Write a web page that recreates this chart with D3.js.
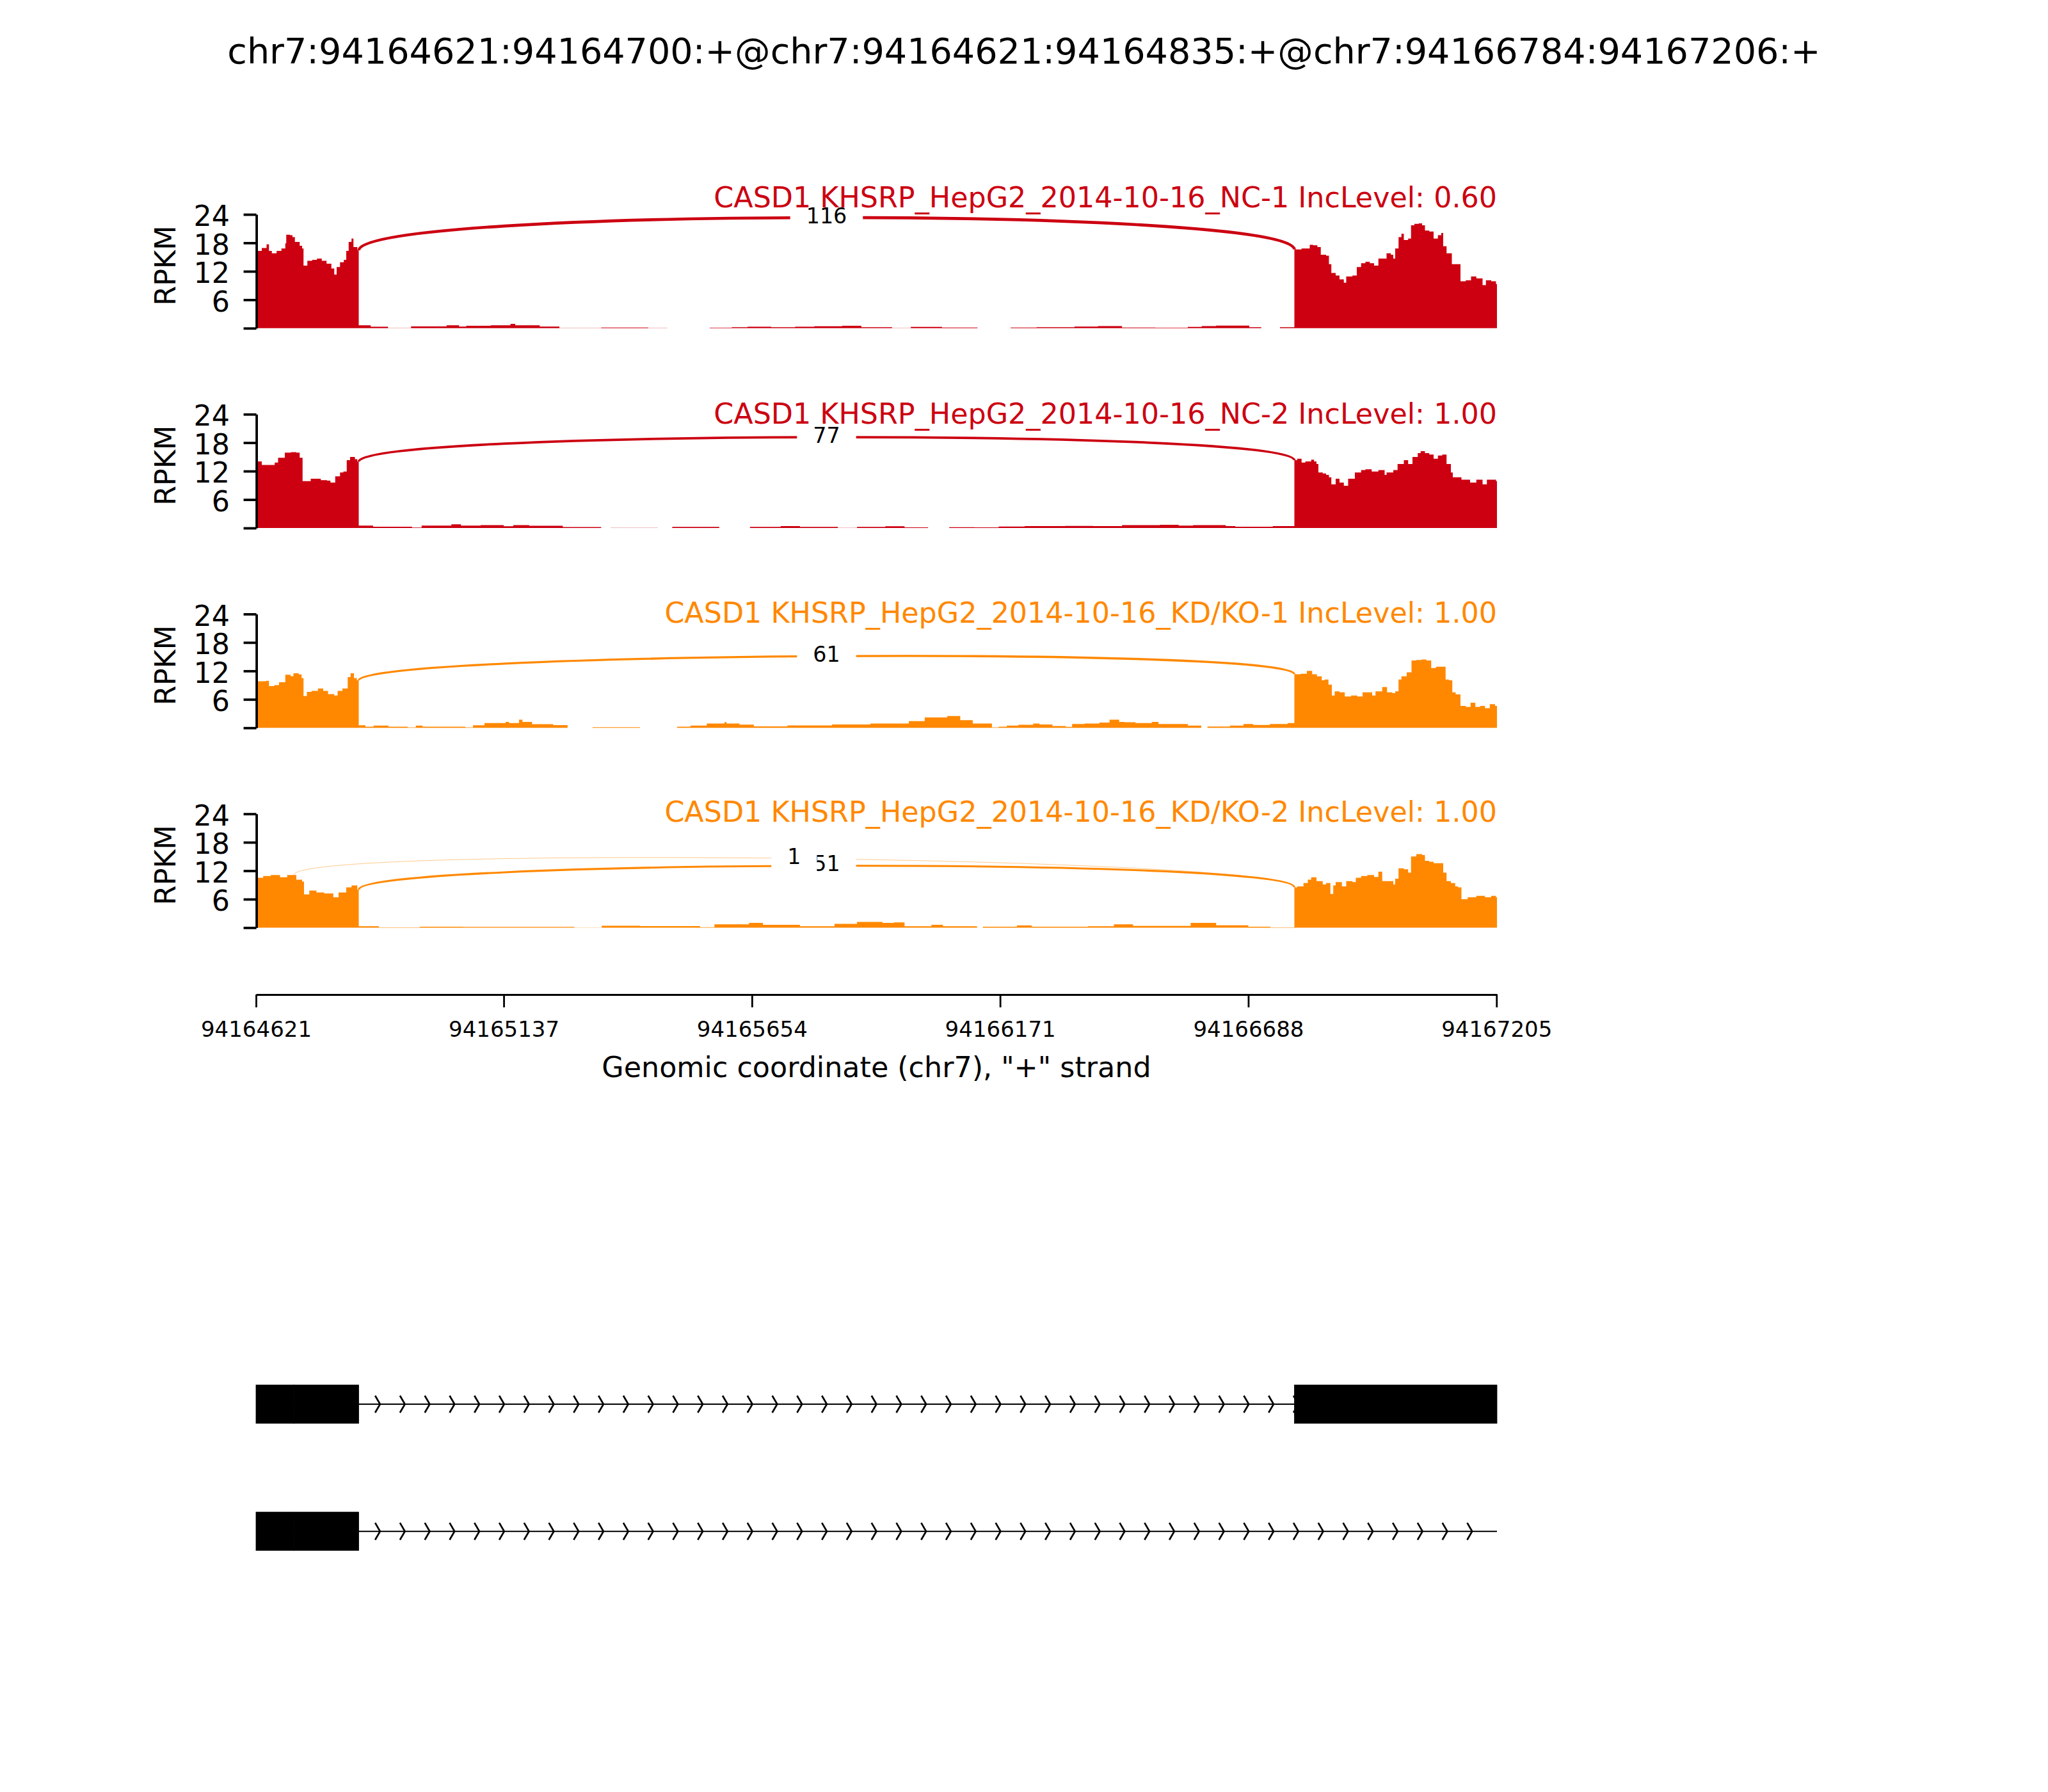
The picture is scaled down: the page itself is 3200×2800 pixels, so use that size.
<!DOCTYPE html>
<html lang="en">
<head>
<meta charset="utf-8">
<title>Sashimi plot CASD1</title>
<script src="https://cdn.jsdelivr.net/npm/d3@7"></script>
<style>
  body { margin: 0; background: #fff; }
  text { font-family: "DejaVu Sans", sans-serif; }
</style>
</head>
<body>
<script>

// Region and event
var regionStart = 94164621;
var regionEnd = 94167206;
var titleText = "chr7:94164621:94164700:+@chr7:94164621:94164835:+@chr7:94166784:94167206:+";
var xLabelText = 'Genomic coordinate (chr7), "+" strand';

// Samples
var sampleNames = ["CASD1 KHSRP_HepG2_2014-10-16_NC-1", "CASD1 KHSRP_HepG2_2014-10-16_NC-2",
                   "CASD1 KHSRP_HepG2_2014-10-16_KD/KO-1", "CASD1 KHSRP_HepG2_2014-10-16_KD/KO-2"];
var incLevels = ["0.60", "1.00", "1.00", "1.00"];
var sampleColors = ["#CC0011", "#CC0011", "#FF8800", "#FF8800"];

// Coverage, [bp offset from regionStart, RPKM]
var covNC1 = [
  [0,16.3],[12,16.9],[22,17.7],[27,16.3],[33,15.8],[43,16.3],[53,16.8],[61,17.9],[63,19.7],[71,19.6],
  [76,19.2],[81,18.2],[91,17.4],[96,16.8],[99,13.2],[107,14.2],[117,14.4],[127,14.7],[137,14.2],[147,13.6],
  [157,12.6],[163,11.3],[168,12.9],[175,13.9],[183,14.4],[188,16.3],[193,18.2],[199,18.9],[203,17.1],[211,16.4],
  [214,0.62],[239,0.3],[275,0.05],[323,0.38],[397,0.62],[423,0.33],[438,0.52],[489,0.62],[530,0.93],[540,0.62],
  [591,0.33],[632,0.05],[719,0.14],[817,0.05],[857,0],[945,0.1],[991,0.22],[1024,0.3],[1073,0.22],[1123,0.3],
  [1163,0.4],[1221,0.5],[1261,0.22],[1325,0.05],[1364,0.27],[1429,0.14],[1503,0],[1572,0.14],[1626,0.22],[1705,0.36],
  [1754,0.45],[1804,0.14],[1873,0.1],[1941,0.27],[1970,0.45],[2000,0.54],[2069,0.22],[2094,0],[2133,0.22],
  [2163,16.6],[2178,16.8],[2195,17.6],[2202,17.5],[2211,17.1],[2218,15.5],[2229,15.3],[2235,13.5],[2240,11.65],[2249,11.1],
  [2257,10.3],[2266,9.6],[2271,10.9],[2284,11.1],[2293,12.9],[2302,13.7],[2311,14.0],[2320,13.7],[2329,13.2],[2338,14.7],
  [2346,14.7],[2355,15.8],[2364,15.5],[2369,14.7],[2373,16.8],[2380,19.2],[2386,19.9],[2391,18.6],[2400,18.9],[2406,21.7],
  [2413,22.0],[2422,22.1],[2429,21.7],[2435,20.6],[2444,20.4],[2453,18.9],[2462,19.6],[2469,20.1],[2473,17.3],[2480,15.8],
  [2486,15.8],[2491,13.5],[2497,13.5],[2509,9.9],[2520,10.1],[2531,10.9],[2542,10.5],[2555,9.1],[2562,10.1],[2573,9.9],
  [2583,9.3],[2585,9.3]
];
var covNC2 = [
  [0,14.05],[12,13.3],[39,13.8],[46,14.8],[60,15.9],[73,16.0],[84,15.9],[91,14.8],[97,9.9],[114,10.4],
  [135,10.1],[148,10.0],[155,9.6],[165,10.9],[175,11.7],[182,11.9],[189,14.3],[196,15.0],[206,14.5],[211,14.0],
  [214,0.5],[244,0.26],[325,0.1],[345,0.5],[407,0.77],[427,0.5],[468,0.62],[516,0.36],[536,0.62],[569,0.46],
  [639,0.2],[719,0],[739,0.05],[837,0],[867,0.22],[965,0],[1029,0.22],[1093,0.4],[1133,0.22],[1212,0.05],
  [1252,0.22],[1311,0.36],[1351,0.14],[1400,0],[1444,0.18],[1497,0.14],[1547,0.3],[1601,0.4],[1685,0.45],[1744,0.4],
  [1804,0.6],[1883,0.68],[1922,0.5],[1952,0.6],[2020,0.4],[2040,0.27],[2118,0.4],
  [2163,14.3],[2169,14.6],[2178,13.8],[2186,14.05],[2198,14.4],[2204,14.05],[2209,13.5],[2213,11.7],[2222,11.5],[2229,11.2],
  [2235,10.7],[2240,9.2],[2249,10.4],[2257,9.6],[2266,8.9],[2275,10.4],[2289,11.7],[2302,12.2],[2311,12.4],[2324,11.9],
  [2338,12.2],[2351,11.2],[2355,11.7],[2369,12.2],[2378,13.5],[2391,14.3],[2400,13.5],[2409,15.0],[2420,15.8],[2426,16.2],
  [2435,15.8],[2444,15.5],[2453,14.6],[2462,15.3],[2471,15.5],[2480,13.5],[2489,11.7],[2493,10.7],[2511,10.2],[2529,9.6],
  [2542,10.2],[2555,9.2],[2564,10.2],[2573,10.2],[2583,9.9],[2585,9.9]
];
var covKD1 = [
  [0,9.8],[21,9.9],[27,8.8],[38,9.0],[48,9.6],[61,11.2],[72,10.9],[78,11.5],[89,11.25],[95,10.5],
  [99,6.7],[106,7.6],[116,7.8],[129,8.3],[140,7.8],[150,7.1],[163,6.8],[170,7.8],[180,8.3],[191,10.7],
  [197,11.5],[204,10.5],[210,10.0],
  [214,0.54],[228,0.22],[245,0.45],[276,0.22],[316,0.1],[333,0.45],[347,0.22],[436,0.1],[452,0.54],[476,1.0],
  [520,1.25],[527,1.0],[548,1.7],[555,1.25],[575,0.76],[619,0.58],[649,0],[701,0.13],[800,0],[877,0.22],
  [905,0.45],[939,0.9],[976,1.2],[980,0.9],[1007,0.67],[1037,0.3],[1060,0.3],[1107,0.5],[1200,0.7],[1280,0.9],
  [1360,1.4],[1393,2.2],[1440,2.5],[1467,1.6],[1493,0.9],[1533,0.1],[1547,0.22],[1564,0.45],[1588,0.62],[1619,0.9],
  [1632,0.7],[1659,0.36],[1687,0.18],[1700,0.8],[1726,0.9],[1757,1.1],[1778,1.7],[1798,1.25],[1809,1.16],[1832,1.0],
  [1866,1.25],[1880,0.8],[1941,0.45],[1969,0],[1982,0.27],[2029,0.45],[2057,0.8],[2077,0.6],[2112,0.8],[2149,1.0],
  [2163,11.3],[2176,11.4],[2189,12.0],[2200,11.3],[2210,10.85],[2220,10.0],[2226,10.2],[2234,9.1],[2241,6.8],[2247,7.7],
  [2257,7.5],[2268,6.6],[2281,6.8],[2294,6.6],[2305,7.5],[2325,6.8],[2332,7.7],[2346,8.6],[2356,7.5],[2367,7.3],
  [2373,7.7],[2380,10.2],[2386,10.85],[2397,11.7],[2407,14.2],[2417,14.3],[2428,14.4],[2438,14.2],[2448,12.6],[2458,12.9],
  [2468,12.9],[2478,10.2],[2485,10.0],[2492,7.5],[2499,7.05],[2509,4.6],[2520,4.4],[2530,5.3],[2540,4.4],[2550,4.6],
  [2560,4.15],[2570,5.0],[2581,4.6],[2585,4.6]
];
var covKD2 = [
  [0,10.5],[15,10.9],[31,11.1],[50,10.6],[65,11.1],[84,10.1],[96,9.7],[100,7.0],[111,7.8],[126,7.4],
  [142,7.2],[161,6.4],[172,7.4],[188,8.5],[199,8.9],[211,8.0],
  [214,0.3],[256,0.05],[341,0.2],[432,0.15],[663,0.02],[720,0.4],[800,0.33],[925,0.1],[955,0.7],[1027,1.0],
  [1056,0.6],[1133,0.3],[1205,0.8],[1252,1.2],[1305,1.0],[1329,1.1],[1351,0.3],[1407,0.6],[1431,0.3],[1502,0],
  [1514,0.2],[1585,0.45],[1616,0.2],[1733,0.3],[1787,0.7],[1827,0.35],[1947,1.0],[2000,0.5],[2067,0.2],[2113,0.05],
  [2163,8.5],[2169,8.7],[2182,9.4],[2191,10.1],[2198,10.6],[2209,9.8],[2222,9.1],[2229,9.4],[2238,7.1],[2244,8.9],
  [2249,9.6],[2262,8.7],[2271,9.8],[2284,9.6],[2291,10.5],[2302,10.9],[2315,11.1],[2329,10.7],[2338,11.8],[2346,9.8],
  [2369,9.1],[2373,10.3],[2380,12.5],[2391,12.3],[2400,11.6],[2406,15.0],[2417,15.5],[2429,15.3],[2435,14.1],[2444,13.9],
  [2453,13.6],[2473,11.6],[2480,9.8],[2489,9.4],[2498,8.7],[2504,8.5],[2511,6.0],[2524,6.4],[2542,6.7],[2560,6.4],
  [2573,6.7],[2583,6.4],[2585,6.4]
];

// Junctions, [left splice site, right splice site, reads]
var jxnNC1 = [[94164835, 94166784, 116]];
var jxnNC2 = [[94164835, 94166784, 77]];
var jxnKD1 = [[94164835, 94166784, 61]];
var jxnKD2 = [[94164835, 94166784, 51], [94164700, 94166784, 1]];

// Ticks
var yTicks = [0, 6, 12, 18, 24];
var xTicks = [94164621, 94165137, 94165654, 94166171, 94166688, 94167205];

// Isoform models
var iso1Exons = [[94164621, 94164700], [94164700, 94164835], [94166784, 94167206]];
var iso2Exons = [[94164621, 94164700], [94164700, 94164835]];
var isoSpans = [[94164621, 94167206], [94164621, 94167206]];
var nArrows = 50;


//Layout
var w = 3200;
var h = 2800;
var panelBottom0 = 512.8, panelStep = 312.2, panelHeight = 177.8;
var labelShift = [-11.5, 14.8, 13.6, 12.4];   // sample label baseline relative to the 24 tick
var trackCenters = [2194, 2392.7];

var svg = d3.select("body")
            .append("svg")
            .attr("width", w)
            .attr("height", h)
            .style("background", "#fff");

var xScale = d3.scaleLinear()
               .domain([regionStart, regionEnd])
               .range([400, 2339]);

//Title
svg.append("text")
   .attr("x", 1600)
   .attr("y", 99)
   .attr("text-anchor", "middle")
   .attr("font-size", 55.6)
   .text(titleText);

var covs = [covNC1, covNC2, covKD1, covKD2];
var jxns = [jxnNC1, jxnNC2, jxnKD1, jxnKD2];

covs.forEach(function(cov, i) {
	var bottom = panelBottom0 + panelStep * i;
	var color = sampleColors[i];
	var yScale = d3.scaleLinear()
	               .domain([0, 24])
	               .range([bottom, bottom - panelHeight]);
	var g = svg.append("g");

	//Coverage
	var area = d3.area()
	             .curve(d3.curveStepAfter)
	             .x(function(d) { return xScale(regionStart + d[0]); })
	             .y0(yScale(0))
	             .y1(function(d) { return yScale(d[1]); });
	g.append("path")
	 .datum(cov)
	 .attr("d", area)
	 .attr("fill", color);

	//Junction arcs
	var arcH = 0.4125 * d3.max(cov, function(d) { return d[1]; });
	var bis = d3.bisector(function(d) { return d[0]; }).right;
	function valueAt(off) {
		var k = Math.max(bis(cov, off) - 1, 0);
		return cov[k][1];
	}
	var arcs = jxns[i].map(function(j) {
		var ld = valueAt(j[0] - regionStart - 1);
		var rd = valueAt(j[1] - regionStart);
		return { x1: xScale(j[0]), x2: xScale(j[1]), ld: ld, rd: rd, n: j[2] };
	});
	arcs.forEach(function(a) {
		var p = d3.path();
		p.moveTo(a.x1, yScale(a.ld));
		p.bezierCurveTo(a.x1, yScale(a.ld + arcH), a.x2, yScale(a.rd + arcH), a.x2, yScale(a.rd));
		g.append("path")
		 .attr("d", p.toString())
		 .attr("fill", "none")
		 .attr("stroke", color)
		 .attr("stroke-opacity", a.n > 1 ? 1 : 0.45)
		 .attr("stroke-width", Math.max(0.43 * Math.sqrt(a.n), 1));
	});
	arcs.forEach(function(a) {
		var cx = (a.x1 + a.x2) / 2;
		var cy = yScale((a.ld + a.rd) / 2 + 0.75 * arcH);
		var box = g.append("rect").attr("fill", "#fff");
		var t = g.append("text")
		         .attr("x", cx)
		         .attr("y", cy)
		         .attr("dy", "0.26em")
		         .attr("text-anchor", "middle")
		         .attr("font-size", 33.3)
		         .text(a.n);
		var tw = t.node().getComputedTextLength();
		var pad = 25;
		box.attr("x", cx - tw / 2 - pad)
		   .attr("y", cy - 16.7 - pad)
		   .attr("width", tw + 2 * pad)
		   .attr("height", 33.3 + 2 * pad);
	});

	//Y axis
	var yAxis = d3.axisLeft(yScale)
	              .tickValues(yTicks)
	              .tickFormat(function(d) { return d === 0 ? "" : d; })
	              .tickSize(20)
	              .tickSizeOuter(0)
	              .tickPadding(21.6);
	var ax = g.append("g")
	          .attr("transform", "translate(400.6,0)")
	          .call(yAxis)
	          .attr("font-family", null)
	          .attr("font-size", null);
	ax.select(".domain").attr("stroke-width", 3.8);
	ax.selectAll(".tick line").attr("stroke-width", 3.8);
	ax.selectAll(".tick text")
	  .attr("font-size", 44.4)
	  .attr("dy", "0.4em");

	g.append("text")
	 .attr("transform", "translate(274," + yScale(13.2) + ") rotate(-90)")
	 .attr("text-anchor", "middle")
	 .attr("font-size", 44.4)
	 .text("RPKM");

	//Sample label
	g.append("text")
	 .attr("x", xScale(regionEnd))
	 .attr("y", yScale(24) + labelShift[i])
	 .attr("text-anchor", "end")
	 .attr("font-size", 44.4)
	 .attr("fill", color)
	 .text(sampleNames[i] + " IncLevel: " + incLevels[i]);
});

//X axis
var xAxis = d3.axisBottom(xScale)
              .tickValues(xTicks)
              .tickFormat(d3.format("d"))
              .tickSize(20)
              .tickSizeOuter(0)
              .tickPadding(21.9);
var xa = svg.append("g")
            .attr("transform", "translate(0,1554)")
            .call(xAxis)
            .attr("font-family", null)
            .attr("font-size", null);
xa.select(".domain").attr("stroke-width", 2.8);
xa.selectAll(".tick line").attr("stroke-width", 2.8);
xa.selectAll(".tick text").attr("font-size", 34);

svg.append("text")
   .attr("x", (xScale.range()[0] + xScale.range()[1]) / 2)
   .attr("y", 1683)
   .attr("text-anchor", "middle")
   .attr("font-size", 44.4)
   .text(xLabelText);

//Gene models
var isoExons = [iso1Exons, iso2Exons];
var span = regionEnd - regionStart;
var arrowStep = span / nArrows;
var spread = 0.2 * span / nArrows;

isoExons.forEach(function(exons, i) {
	var yc = trackCenters[i];
	var g = svg.append("g");
	var s = isoSpans[i];

	g.append("line")
	 .attr("x1", xScale(s[0]))
	 .attr("x2", xScale(s[1]))
	 .attr("y1", yc)
	 .attr("y2", yc)
	 .attr("stroke", "#000")
	 .attr("stroke-width", 2);

	var locs = d3.range(nArrows)
	             .map(function(k) { return regionStart + k * arrowStep; })
	             .filter(function(p) { return p > s[0] && p < s[1]; });
	g.selectAll("path.arrow")
	 .data(locs)
	 .enter()
	 .append("path")
	 .attr("class", "arrow")
	 .attr("d", function(p) {
	 	var xa = xScale(p - spread), xb = xScale(p);
	 	return "M" + xa + "," + (yc - 13.3) + "L" + xb + "," + yc + "L" + xa + "," + (yc + 13.3);
	 })
	 .attr("fill", "none")
	 .attr("stroke", "#000")
	 .attr("stroke-width", 2.7);

	g.selectAll("rect")
	 .data(exons)
	 .enter()
	 .append("rect")
	 .attr("x", function(d) { return xScale(d[0]); })
	 .attr("width", function(d) { return xScale(d[1]) - xScale(d[0]); })
	 .attr("y", yc - 30)
	 .attr("height", 60)
	 .attr("fill", "#000")
	 .attr("stroke", "#000")
	 .attr("stroke-width", 0.8);
});

</script>
</body>
</html>
